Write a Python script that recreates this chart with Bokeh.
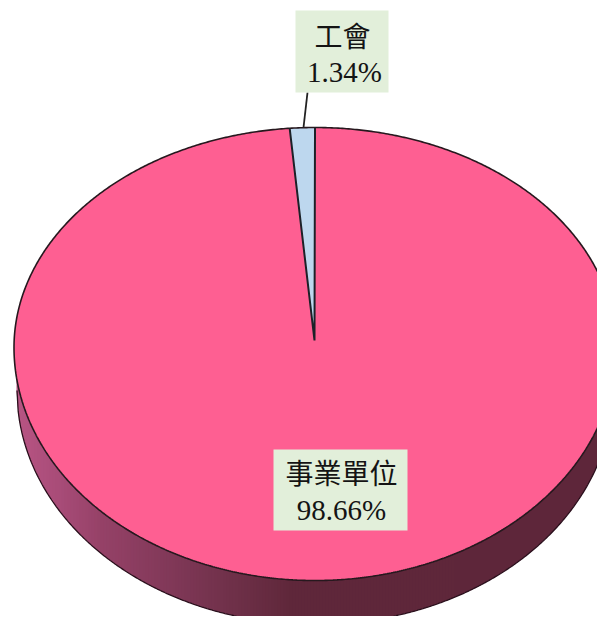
import numpy as np
from bokeh.plotting import figure
from bokeh.models import Range1d
from bokeh.core.properties import value
from bokeh.embed import file_html
from bokeh.resources import INLINE

categories = ["事業單位", "工會"]
shares = [98.66, 1.34]
share_labels = ["98.66%", "1.34%"]

# geometry, in reference pixels
CX, CY, RX, RY_UP, RY_LOW = 314.5, 347.0, 301.0, 220.0, 233.0
OX, OY, ORX, ORY = 314.5, 390.0, 298.0, 234.0
APEX = (314.0, 340.0)

def rim(t):
    t = np.asarray(t, float)
    c = np.cos(t)
    return CX + RX * np.sin(t), CY - np.where(c > 0, RY_UP, RY_LOW) * c

def rim_low(x):
    return CY + RY_LOW * np.sqrt(np.clip(1 - ((x - CX) / RX) ** 2, 0, 1))

def outer_low(x):
    return OY + ORY * np.sqrt(np.clip(1 - ((x - OX) / ORX) ** 2, 0, 1))

p = figure(width=597, height=616, x_range=Range1d(0, 597), y_range=Range1d(616, 0),
           output_backend="svg", toolbar_location=None, min_border=0,
           x_axis_type=None, y_axis_type=None, outline_line_color=None,
           background_fill_color="white", border_fill_color="white")
p.grid.visible = False

# side wall: gradient strips
stops_x = [16, 60, 100, 160, 230, 290, 620]
stops_r = [0xB8, 0xA8, 0x96, 0x84, 0x70, 0x60, 0x5E]
stops_g = [0x55, 0x4C, 0x42, 0x3A, 0x31, 0x28, 0x26]
stops_b = [0x84, 0x78, 0x68, 0x5B, 0x4A, 0x3B, 0x3A]
edges = np.arange(16.0, 614.0, 3.0)
xs_s, ys_s, cols = [], [], []
for a, b in zip(edges[:-1], edges[1:]):
    xx = np.linspace(a, b + 0.6, 4)
    top, bot = rim_low(xx), outer_low(xx)
    bot = np.maximum(top, bot)
    xs_s.append(np.r_[xx, xx[::-1]].tolist())
    ys_s.append(np.r_[top, bot[::-1]].tolist())
    m = (a + b) / 2
    cols.append("#%02x%02x%02x" % (int(np.interp(m, stops_x, stops_r)),
                                   int(np.interp(m, stops_x, stops_g)),
                                   int(np.interp(m, stops_x, stops_b))))
p.patches(xs_s, ys_s, fill_color=cols, line_color=None)

xx = np.linspace(16.5, 612.5, 500)
p.line(xx, np.maximum(rim_low(xx), outer_low(xx)), line_color="#2a0f1c", line_width=1.3)

# top face slices from the shares
frac_small = shares[1] / sum(shares)
t_start = -2 * np.pi * frac_small
t_big = np.linspace(0, 2 * np.pi + t_start, 720)
t_small = np.linspace(t_start, 0, 8)
xb, yb = rim(t_big)
xs, ys = rim(t_small)
p.patch(np.r_[APEX[0], xb], np.r_[APEX[1], yb], fill_color="#FE5F92", line_color=None)
p.patch(np.r_[APEX[0], xs], np.r_[APEX[1], ys], fill_color="#BDD7EE", line_color=None)

t_all = np.linspace(0, 2 * np.pi, 900)
xa, ya = rim(t_all)
p.line(xa, ya, line_color="#26181e", line_width=1.6)
p.line([xs[0], APEX[0], xs[-1]], [ys[0], APEX[1], ys[-1]], line_color="#1c2128", line_width=2)

# leader and labels
p.line([307, 303], [92, 127], line_color="#222222", line_width=1.8)
p.quad(left=[273, 295], right=[407, 388], top=[449, 10], bottom=[530, 92],
       fill_color="#E2EFDA", line_color=None)

name_x, name_y = [341, 342], [471, 34]
val_x, val_y = [341, 344], [509, 71]
p.text(name_x, name_y, text=categories, text_align="center", text_baseline="middle",
       text_font=value("Noto Sans CJK TC"), text_font_size="28px", text_color="#141414")
p.text(val_x, val_y, text=share_labels, text_align="center", text_baseline="middle",
       text_font=value("Liberation Serif"), text_font_size="29px", text_color="#141414")

open("out.html", "w").write(file_html(p, INLINE))
